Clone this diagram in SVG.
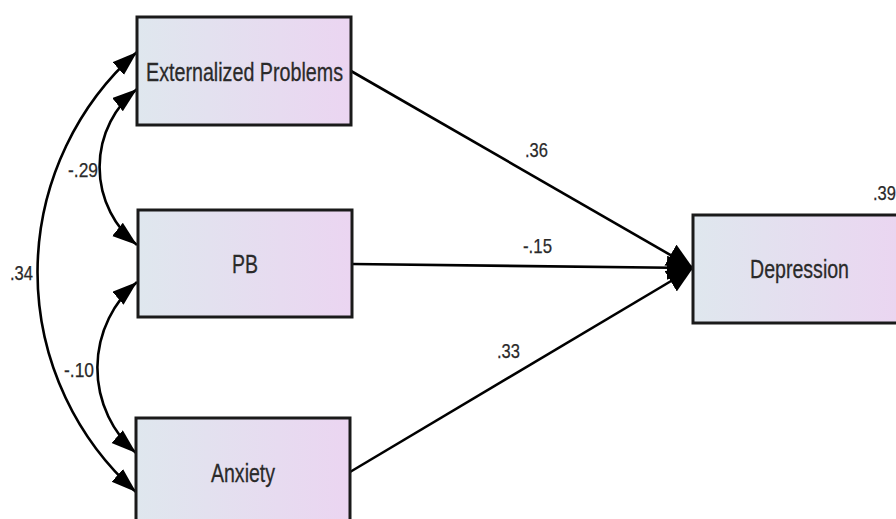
<svg xmlns="http://www.w3.org/2000/svg" width="896" height="519" viewBox="0 0 896 519">
<defs>
<linearGradient id="boxfill" x1="0" y1="0" x2="1" y2="0">
<stop offset="0" stop-color="#dfe7ee"/>
<stop offset="1" stop-color="#ebd5f1"/>
</linearGradient>
<marker id="headBig" markerUnits="userSpaceOnUse" markerWidth="28" markerHeight="26" refX="26" refY="12" orient="auto">
<path d="M0,0 L26,12 L0,24 z" fill="#000"/>
</marker>
<marker id="headSmall" markerUnits="userSpaceOnUse" markerWidth="27" markerHeight="18" refX="25" refY="8.5" orient="auto-start-reverse">
<path d="M0,0 L25,8.5 L0,17 z" fill="#000"/>
</marker>
</defs>
<style>
.box{fill:url(#boxfill);stroke:#1a1a1a;stroke-width:3}
.lbl{font-family:"Liberation Sans Narrow","Liberation Sans",Arial,sans-serif;font-size:26px;fill:#2a2a2a;stroke:#2a2a2a;stroke-width:0.3;text-anchor:middle}
.num{font-family:"Liberation Sans Narrow","Liberation Sans",Arial,sans-serif;font-size:21px;fill:#2a2a2a;stroke:#2a2a2a;stroke-width:0.25}
.path{fill:none;stroke:#000;stroke-width:2.6}
</style>
<rect width="896" height="519" fill="#fff"/>
<g id="connectors">
<line class="path" x1="351" y1="71" x2="693" y2="268" marker-end="url(#headBig)"/>
<line class="path" x1="352" y1="264" x2="693" y2="268" marker-end="url(#headBig)"/>
<line class="path" x1="350" y1="472" x2="693" y2="268" marker-end="url(#headBig)"/>
<path class="path" d="M137,52 A294,294 0 0,0 136,492" marker-start="url(#headSmall)" marker-end="url(#headSmall)"/>
<path class="path" d="M137,89 A100,100 0 0,0 137,245" marker-start="url(#headSmall)" marker-end="url(#headSmall)"/>
<path class="path" d="M137,282 A113,113 0 0,0 136,453" marker-start="url(#headSmall)" marker-end="url(#headSmall)"/>
<text class="num" x="525" y="157" textLength="23" lengthAdjust="spacingAndGlyphs">.36</text>
<text class="num" x="523" y="253" textLength="29" lengthAdjust="spacingAndGlyphs">-.15</text>
<text class="num" x="497" y="358" textLength="23" lengthAdjust="spacingAndGlyphs">.33</text>
<text class="num" x="68" y="177" textLength="30" lengthAdjust="spacingAndGlyphs">-.29</text>
<text class="num" x="10" y="280" textLength="23" lengthAdjust="spacingAndGlyphs">.34</text>
<text class="num" x="64" y="377" textLength="30" lengthAdjust="spacingAndGlyphs">-.10</text>
</g>
<g id="externalized">
<rect class="box" x="137" y="17" width="214" height="108"/>
<text class="lbl" x="244.5" y="81" textLength="197" lengthAdjust="spacingAndGlyphs">Externalized Problems</text>
</g>
<g id="pb">
<rect class="box" x="138" y="210" width="214" height="107"/>
<text class="lbl" x="245" y="273" textLength="26" lengthAdjust="spacingAndGlyphs">PB</text>
</g>
<g id="anxiety">
<rect class="box" x="136" y="418" width="214" height="108"/>
<text class="lbl" x="243" y="482" textLength="64" lengthAdjust="spacingAndGlyphs">Anxiety</text>
</g>
<g id="depression">
<rect class="box" x="693" y="215" width="214" height="108"/>
<text class="lbl" x="799.5" y="278" textLength="99" lengthAdjust="spacingAndGlyphs">Depression</text>
<text class="num" x="873" y="200" textLength="23" lengthAdjust="spacingAndGlyphs">.39</text>
</g>
</svg>
